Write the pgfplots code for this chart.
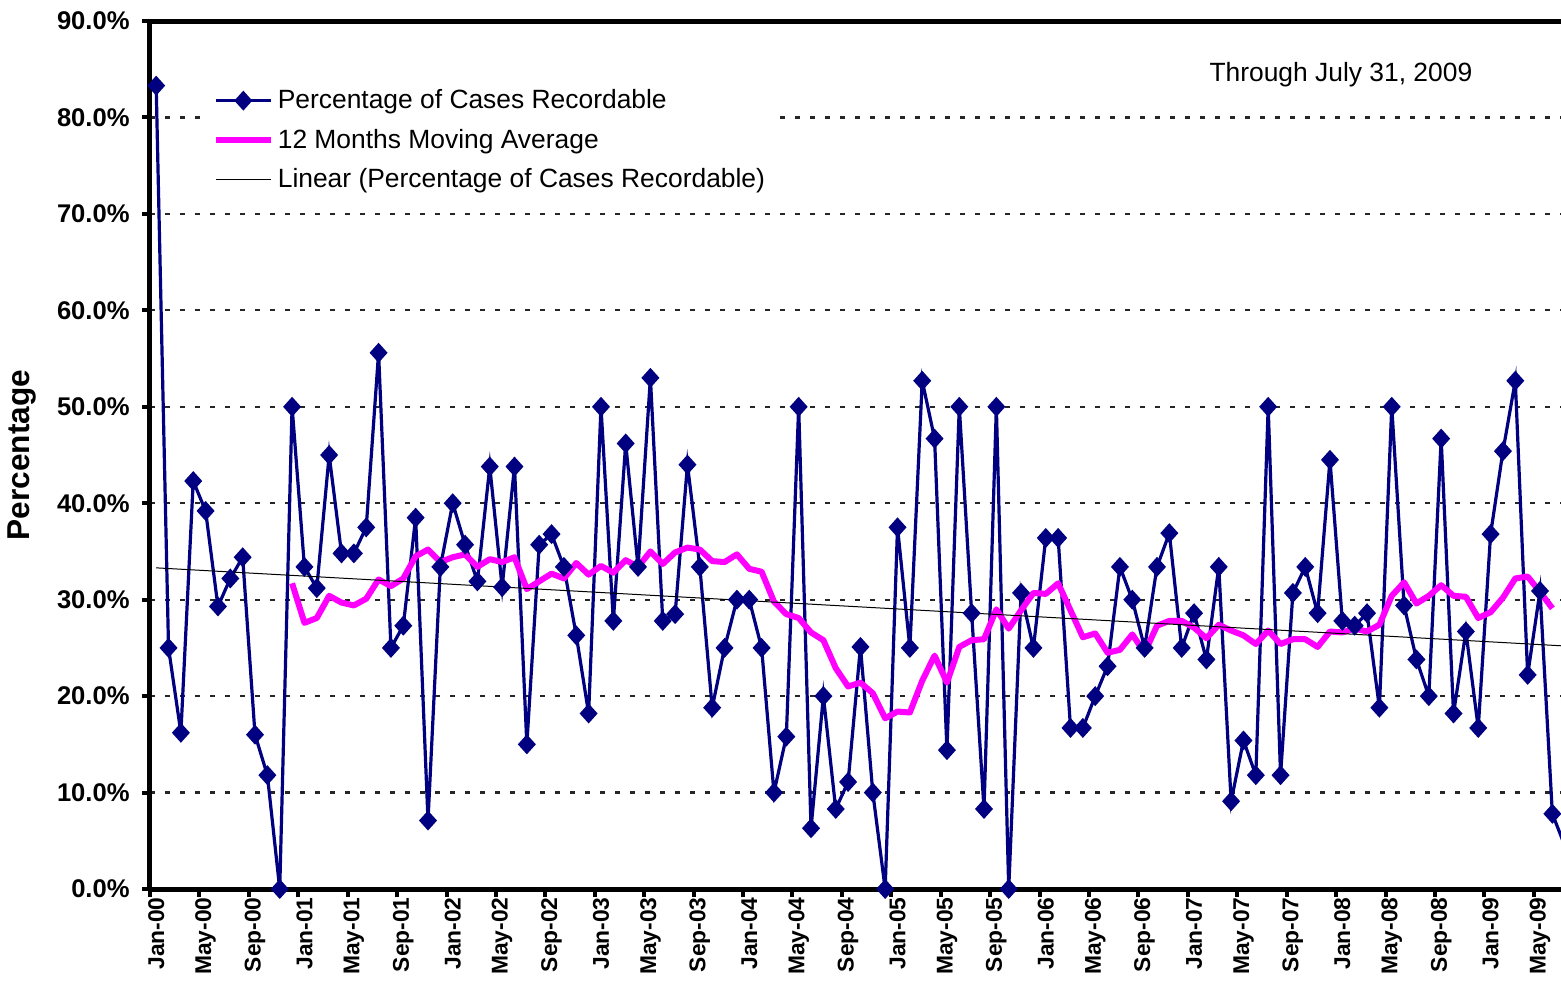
\documentclass[border=0pt]{standalone}
\usepackage{pgfplots}
\pgfplotsset{compat=1.18}
\usepackage{fontspec}
\setmainfont{Liberation Sans}
\definecolor{navyc}{RGB}{0,0,128}
\definecolor{magc}{RGB}{255,0,255}
\begin{document}
\begin{tikzpicture}
\begin{axis}[
  scale only axis,
  width=705.5pt, height=434pt,
  xmin=-0.5, xmax=113.7,
  ymin=0, ymax=90,
  axis x line*=box, axis y line*=left,
  axis line style={line width=2.5pt, black},
  xtick pos=left, ytick pos=left,
  tick align=outside,
  xtick={0,4,...,112},
  xticklabels={Jan-00,May-00,Sep-00,Jan-01,May-01,Sep-01,Jan-02,May-02,Sep-02,Jan-03,May-03,Sep-03,Jan-04,May-04,Sep-04,Jan-05,May-05,Sep-05,Jan-06,May-06,Sep-06,Jan-07,May-07,Sep-07,Jan-08,May-08,Sep-08,Jan-09,May-09},
  minor xtick={-0.5,3.5,...,111.5},
  major x tick style={draw=none},
  minor x tick style={line width=2pt, black},
  minor tick length=4pt,
  ytick={0,10,...,90},
  ytick style={line width=2pt, black},
  major tick length=4pt,
  yticklabel={\pgfmathprintnumber[fixed,fixed zerofill,precision=1]{\tick}\%},
  /pgf/number format/assume math mode=true,
  yticklabel style={font=\fontsize{12.8}{15}\selectfont\bfseries, inner sep=0pt},
  yticklabel shift=6pt,
  xticklabel style={rotate=90, anchor=east, font=\fontsize{11.4}{14}\selectfont\bfseries, inner sep=0pt},
  xticklabel shift=0pt,
  ymajorgrids,
  major grid style={line width=1.1pt, black!85, dash pattern=on 2.5pt off 5pt},
  ylabel={Percentage},
  ylabel style={at={(axis description cs:-0.0907,0.5)}, anchor=center, font=\fontsize{15.8}{18}\selectfont\bfseries},
  legend cell align=left,
  legend style={at={(rel axis cs:0.040,0.933)}, anchor=north west, draw=none, fill=white,
     font=\fontsize{13.2}{16}\selectfont, row sep=4.6pt, inner xsep=3pt, inner ysep=3pt,
     nodes={inner xsep=2pt}},
  legend image code/.code={\draw[mark repeat=2,mark phase=2,#1] plot coordinates {(0pt,0pt) (13.75pt,0pt) (27.5pt,0pt)};},
  clip=true,
]
\addplot[color=navyc, line width=1.6pt, mark=diamond*, mark size=3.8pt, mark options={fill=navyc, solid, xscale=1.2}] coordinates {
(0,83.3)(1,25.0)(2,16.2)(3,42.3)(4,39.2)(5,29.3)(6,32.2)(7,34.4)(8,16.0)(9,11.8)
(10,0)(11,50.0)(12,33.4)(13,31.2)(14,45.0)(15,34.8)(16,34.8)(17,37.5)(18,55.6)(19,25.0)
(20,27.3)(21,38.5)(22,7.1)(23,33.4)(24,40.0)(25,35.7)(26,31.9)(27,43.8)(28,31.3)(29,43.8)
(30,15.0)(31,35.7)(32,36.8)(33,33.4)(34,26.3)(35,18.2)(36,50.0)(37,27.8)(38,46.2)(39,33.4)
(40,53.0)(41,27.8)(42,28.5)(43,44.0)(44,33.4)(45,18.8)(46,25.0)(47,30.0)(48,30.0)(49,25.0)
(50,10.0)(51,15.8)(52,50.0)(53,6.3)(54,20.0)(55,8.3)(56,11.1)(57,25.1)(58,10.0)(59,0)
(60,37.5)(61,25.0)(62,52.7)(63,46.7)(64,14.4)(65,50.0)(66,28.6)(67,8.3)(68,50.0)(69,0)
(70,30.7)(71,25.0)(72,36.4)(73,36.4)(74,16.7)(75,16.7)(76,20.0)(77,23.1)(78,33.4)(79,30.0)
(80,25.0)(81,33.4)(82,36.9)(83,25.0)(84,28.6)(85,23.8)(86,33.4)(87,9.1)(88,15.4)(89,11.8)
(90,50.0)(91,11.8)(92,30.7)(93,33.4)(94,28.6)(95,44.5)(96,27.8)(97,27.3)(98,28.6)(99,18.8)
(100,50.0)(101,29.4)(102,23.8)(103,20.0)(104,46.7)(105,18.2)(106,26.7)(107,16.7)(108,36.8)(109,45.4)
(110,52.7)(111,22.2)(112,30.9)(113,7.8)(114,4.5)
};
\addlegendentry{Percentage of Cases Recordable}
\addplot[color=magc, line width=3pt, no marks, line join=round] coordinates {
(11,31.7)(12,27.6)(13,28.1)(14,30.4)(15,29.7)(16,29.4)(17,30.1)(18,32.1)(19,31.4)
(20,32.2)(21,34.5)(22,35.2)(23,33.9)(24,34.4)(25,34.7)(26,33.4)(27,34.2)(28,33.9)(29,34.4)
(30,31.1)(31,31.9)(32,32.7)(33,32.2)(34,33.8)(35,32.6)(36,33.5)(37,32.8)(38,34.1)(39,33.4)
(40,35.0)(41,33.7)(42,34.9)(43,35.4)(44,35.2)(45,34.0)(46,33.9)(47,34.7)(48,33.2)(49,32.9)
(50,29.8)(51,28.5)(52,28.1)(53,26.6)(54,25.8)(55,22.9)(56,21.0)(57,21.4)(58,20.3)(59,17.7)
(60,18.4)(61,18.3)(62,21.6)(63,24.2)(64,21.4)(65,25.1)(66,25.8)(67,25.9)(68,29.0)(69,27.0)
(70,28.9)(71,30.7)(72,30.6)(73,31.7)(74,28.9)(75,26.1)(76,26.5)(77,24.5)(78,24.8)(79,26.4)
(80,24.5)(81,27.3)(82,27.8)(83,27.8)(84,27.1)(85,26.0)(86,27.4)(87,26.8)(88,26.3)(89,25.4)
(90,26.8)(91,25.4)(92,25.9)(93,25.9)(94,25.1)(95,26.7)(96,26.6)(97,27.0)(98,26.7)(99,27.4)
(100,30.4)(101,31.8)(102,29.6)(103,30.4)(104,31.5)(105,30.4)(106,30.3)(107,28.1)(108,28.7)(109,30.2)
(110,32.2)(111,32.4)(112,30.8)(113,29.1)
};
\addlegendentry{12 Months Moving Average}
\addplot[color=black, line width=0.5pt, no marks] coordinates {(0,33.3)(114,25.2)};
\addlegendentry{Linear (Percentage of Cases Recordable)}
\node[font=\fontsize{13.2}{16}\selectfont, anchor=center] at (rel axis cs:0.844,0.938) {Through July 31, 2009};
\end{axis}
\pgfresetboundingbox
\path[use as bounding box] (-75pt,-46pt) rectangle (705.5pt,444.5pt);
\end{tikzpicture}
\end{document}
